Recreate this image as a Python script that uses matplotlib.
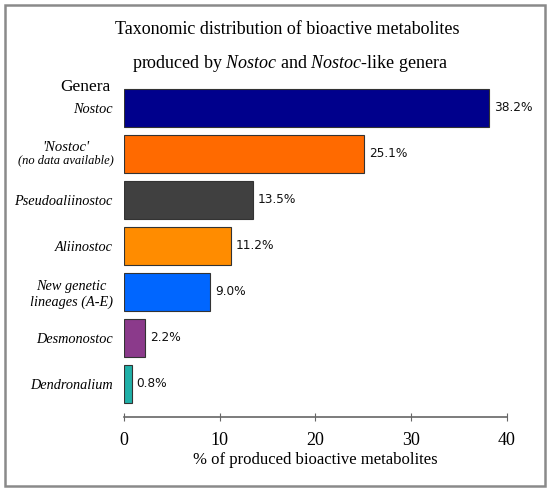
import matplotlib
matplotlib.use("Agg")
import matplotlib.pyplot as plt
from matplotlib.patches import Rectangle
from matplotlib.transforms import blended_transform_factory

genera = ["Nostoc", "'Nostoc'", "Pseudoaliinostoc", "Aliinostoc",
          "New genetic\nlineages (A-E)", "Desmonostoc", "Dendronalium"]
values = [38.2, 25.1, 13.5, 11.2, 9.0, 2.2, 0.8]
colors = ["#00008C", "#FF6A00", "#404040", "#FF8C00", "#0066FF", "#8B3A8B", "#20B0A8"]
xticks = [0, 10, 20, 30, 40]
title_lines = ["Taxonomic distribution of bioactive metabolites",
               r"produced by $\it{Nostoc}$ and $\it{Nostoc}$-like genera"]
xlabel = "% of produced bioactive metabolites"

serif = "Liberation Serif"
plt.rcParams["mathtext.fontset"] = "custom"
plt.rcParams["mathtext.rm"] = serif
plt.rcParams["mathtext.it"] = serif + ":italic"

fig = plt.figure(figsize=(5.5, 4.92), dpi=100)
ax = fig.add_axes([0.2255, 0.1524, 0.6955, 0.675])

ypos = list(range(len(genera)))
ax.barh(ypos, values, height=0.83, color=colors, edgecolor="#333333", linewidth=0.8)
for y, v in zip(ypos, values):
    ax.text(v + 0.5, y, f"{v:.1f}%", va="center", ha="left",
            fontsize=8.7, family="DejaVu Sans", color="#111111")

ax.set_xlim(0, 40)
ax.set_ylim(6.72, -0.5)
ax.set_xticks(xticks)
ax.set_xticklabels([str(t) for t in xticks], family=serif, fontsize=13)
ax.set_yticks(ypos)
labels = [g if i != 1 else "" for i, g in enumerate(genera)]
ax.set_yticklabels(labels, family=serif, style="italic", fontsize=10.3,
                   multialignment="center")
ax.tick_params(axis="y", length=0, pad=8)
ax.tick_params(axis="x", direction="inout", length=6, color="#666666", pad=8)
for s in ["left", "right", "top"]:
    ax.spines[s].set_visible(False)
ax.spines["bottom"].set_color("#666666")
ax.spines["bottom"].set_linewidth(1.2)

tr = blended_transform_factory(fig.transFigure, ax.transData)
ax.text(66 / 550, 1 - 0.15, "'Nostoc'", transform=tr, ha="center", va="center",
        family=serif, style="italic", fontsize=10.5)
ax.text(66 / 550, 1 + 0.13, "(no data available)", transform=tr, ha="center", va="center",
        family=serif, style="italic", fontsize=9)

ax.set_xlabel(xlabel, family=serif, fontsize=12, labelpad=2)

fig.text(287 / 550, 1 - 30 / 492, title_lines[0], ha="center", va="center",
         family=serif, fontsize=13)
fig.text(290 / 550, 1 - 63 / 492, title_lines[1], ha="center", va="center",
         family=serif, fontsize=13)
fig.text(85 / 550, 1 - 87 / 492, "Genera", ha="center", va="center",
         family=serif, fontsize=12.5)

fig.patches.append(Rectangle((5 / 550, 6 / 492), 540 / 550, 481 / 492,
                             transform=fig.transFigure, fill=False,
                             edgecolor="#8a8a8a", linewidth=1.8))

fig.savefig("out.png", dpi=100)
